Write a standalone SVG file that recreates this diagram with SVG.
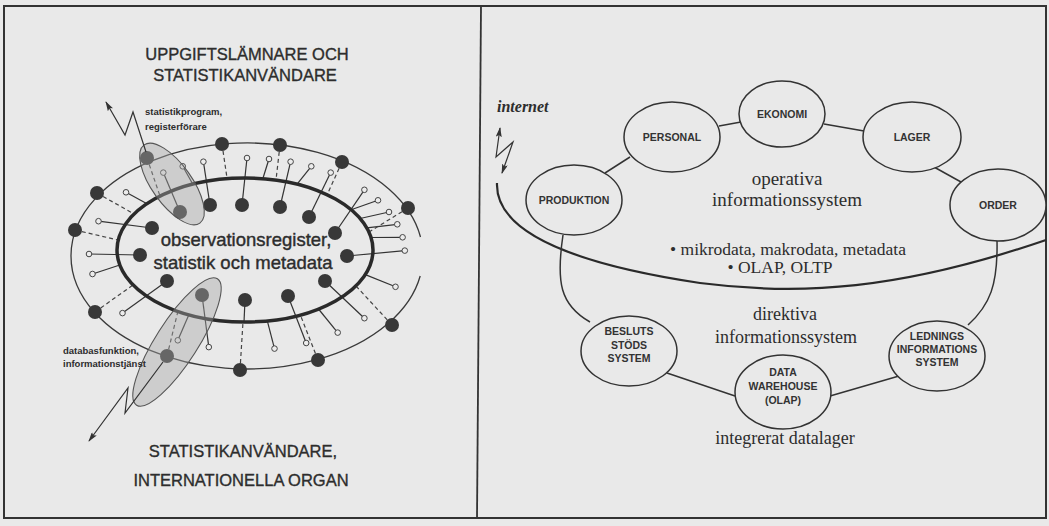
<svg xmlns="http://www.w3.org/2000/svg" width="1049" height="526" viewBox="0 0 1049 526">
<style>
.ln{stroke:#333;stroke-width:1.2;fill:none}
.dash{stroke:#444;stroke-width:1.2;fill:none;stroke-dasharray:4 3}
.thin{stroke:#3a3a3a;stroke-width:1.3;fill:none}
.thick{stroke:#2a2a2a;stroke-width:3.5;fill:none}
.dot{fill:#383838}
.sc{fill:#ececec;stroke:#444;stroke-width:1}
.hl{fill:#a8a8a8;fill-opacity:0.42;stroke:#555;stroke-width:1.1}
.nd{fill:#e9e9e9;stroke:#333;stroke-width:1.5}
.cn{stroke:#333;stroke-width:1.5;fill:none}
.sans{font-family:"Liberation Sans",Arial,sans-serif;fill:#2d2d2d}
.ttl{font-size:16.5px;text-anchor:middle;stroke:#2d2d2d;stroke-width:0.35}
.ctr{font-size:18.5px;text-anchor:middle;stroke:#2d2d2d;stroke-width:0.4}
.sm{font-size:9.5px;font-weight:bold}
.lbl{font-family:"Liberation Sans",Arial,sans-serif;font-size:10.5px;font-weight:bold;fill:#333;text-anchor:middle}
.ser{font-family:"Liberation Serif","Times New Roman",serif;fill:#2d2d2d;text-anchor:middle}
</style>
<defs>
<marker id="ah" viewBox="0 0 10 6" refX="9" refY="3" markerWidth="10" markerHeight="6" markerUnits="userSpaceOnUse" orient="auto-start-reverse">
<path d="M0,0 L10,3 L0,6 L2,3 Z" fill="#333"/>
</marker>
</defs>
<rect x="0" y="0" width="1049" height="526" fill="#e9e9e9"/>
<g id="frame">
<rect x="4" y="6" width="1042" height="512" fill="none" stroke="#333" stroke-width="2"/>
<line x1="481" y1="6" x2="477" y2="518" stroke="#333" stroke-width="1.8"/>
</g>

<!-- LEFT PANEL -->
<g id="left-titles" class="sans">
<text class="ttl" x="247" y="60">UPPGIFTSLÄMNARE OCH</text>
<text class="ttl" x="245" y="81">STATISTIKANVÄNDARE</text>
<text class="ttl" x="243" y="457">STATISTIKANVÄNDARE,</text>
<text class="ttl" x="241" y="486">INTERNATIONELLA ORGAN</text>
</g>

<g id="outer-ring">
<path class="thin" d="M420.2,276 A176 113 0 1 1 420.5,237"/>
</g>

<g id="spokes">
<g class="ln">
<line x1="152" y1="228" x2="98.5" y2="221.2"/>
<line x1="147" y1="203.7" x2="126" y2="192.3"/>
<line x1="180" y1="212" x2="163.3" y2="172.6"/>
<line x1="192.9" y1="184.2" x2="182.7" y2="166.3"/>
<line x1="210" y1="205" x2="203.4" y2="161.7"/>
<line x1="242" y1="205" x2="247" y2="158"/>
<line x1="262.8" y1="178.7" x2="269" y2="159"/>
<line x1="280" y1="207" x2="290.6" y2="161.7"/>
<line x1="297.1" y1="184.2" x2="311.3" y2="166.3"/>
<line x1="309" y1="217" x2="330.7" y2="172.6"/>
<line x1="335" y1="233" x2="364.4" y2="189.8"/>
<line x1="351.1" y1="209.8" x2="378" y2="200.3"/>
<line x1="360.1" y1="218.5" x2="389" y2="212"/>
<line x1="366.7" y1="227.8" x2="397.3" y2="224.3"/>
<line x1="371.1" y1="237.5" x2="402.6" y2="237.3"/>
<line x1="347" y1="256" x2="404.8" y2="250.6"/>
<line x1="365.3" y1="274.6" x2="395.5" y2="286.8"/>
<line x1="325" y1="281" x2="364.4" y2="318.2"/>
<line x1="318.5" y1="309" x2="337.7" y2="332.6"/>
<line x1="288" y1="296" x2="306.2" y2="343"/>
<line x1="267.3" y1="320.9" x2="274.5" y2="348.6"/>
<line x1="202" y1="295" x2="208.8" y2="347.1"/>
<line x1="188.9" y1="314.7" x2="177.8" y2="340.3"/>
<line x1="167" y1="281" x2="122.5" y2="313.1"/>
<line x1="119.8" y1="265" x2="92.5" y2="274"/>
<line x1="140" y1="255" x2="89" y2="254"/>
<line x1="245" y1="300" x2="244" y2="322"/>
</g>
<g class="dash">
<line x1="147" y1="158" x2="160" y2="196"/>
<line x1="222" y1="144" x2="227" y2="178"/>
<line x1="280" y1="145" x2="276" y2="180"/>
<line x1="342" y1="162" x2="327" y2="195"/>
<line x1="408" y1="208" x2="369" y2="232"/>
<line x1="392" y1="325" x2="356" y2="286"/>
<line x1="318" y1="360" x2="300" y2="314"/>
<line x1="240" y1="370" x2="243" y2="322"/>
<line x1="167" y1="356" x2="178" y2="311"/>
<line x1="95" y1="312" x2="133" y2="285"/>
<line x1="75" y1="230" x2="118" y2="240"/>
<line x1="97" y1="193" x2="134" y2="214"/>
</g>
<g class="sc">
<circle cx="98.5" cy="221.2" r="2.8"/>
<circle cx="126" cy="192.3" r="2.8"/>
<circle cx="163.3" cy="172.6" r="2.8"/>
<circle cx="182.7" cy="166.3" r="2.8"/>
<circle cx="203.4" cy="161.7" r="2.8"/>
<circle cx="247" cy="158" r="2.8"/>
<circle cx="269" cy="159" r="2.8"/>
<circle cx="290.6" cy="161.7" r="2.8"/>
<circle cx="311.3" cy="166.3" r="2.8"/>
<circle cx="330.7" cy="172.6" r="2.8"/>
<circle cx="364.4" cy="189.8" r="2.8"/>
<circle cx="378" cy="200.3" r="2.8"/>
<circle cx="389" cy="212" r="2.8"/>
<circle cx="397.3" cy="224.3" r="2.8"/>
<circle cx="402.6" cy="237.3" r="2.8"/>
<circle cx="404.8" cy="250.6" r="2.8"/>
<circle cx="395.5" cy="286.8" r="2.8"/>
<circle cx="364.4" cy="318.2" r="2.8"/>
<circle cx="337.7" cy="332.6" r="2.8"/>
<circle cx="306.2" cy="343" r="2.8"/>
<circle cx="274.5" cy="348.6" r="2.8"/>
<circle cx="208.8" cy="347.1" r="2.8"/>
<circle cx="177.8" cy="340.3" r="2.8"/>
<circle cx="122.5" cy="313.1" r="2.8"/>
<circle cx="92.5" cy="274" r="2.8"/>
<circle cx="89" cy="254" r="2.8"/>
</g>
</g>

<g id="core">
<ellipse class="thick" cx="245" cy="250" rx="128" ry="72"/>
</g>

<g id="inner-dots" class="dot">
<circle cx="152" cy="228" r="7"/>
<circle cx="140" cy="255" r="7"/>
<circle cx="167" cy="281" r="7"/>
<circle cx="202" cy="295" r="7"/>
<circle cx="245" cy="300" r="7"/>
<circle cx="288" cy="296" r="7"/>
<circle cx="325" cy="281" r="7"/>
<circle cx="347" cy="256" r="7"/>
<circle cx="335" cy="233" r="7"/>
<circle cx="309" cy="217" r="7"/>
<circle cx="280" cy="207" r="7"/>
<circle cx="242" cy="205" r="7"/>
<circle cx="210" cy="205" r="7"/>
<circle cx="180" cy="212" r="7"/>
</g>

<g id="outer-dots" class="dot">
<circle cx="75" cy="230" r="7"/>
<circle cx="97" cy="193" r="7"/>
<circle cx="147" cy="158" r="7"/>
<circle cx="222" cy="144" r="7"/>
<circle cx="280" cy="145" r="7"/>
<circle cx="342" cy="162" r="7"/>
<circle cx="408" cy="208" r="7"/>
<circle cx="392" cy="325" r="7"/>
<circle cx="318" cy="360" r="7"/>
<circle cx="240" cy="370" r="7"/>
<circle cx="167" cy="356" r="7"/>
<circle cx="95" cy="312" r="7"/>
</g>

<g id="highlight-top">
<ellipse class="hl" cx="0" cy="0" rx="48" ry="20" transform="translate(172 184) rotate(54.5)"/>
</g>
<g id="highlight-bottom">
<ellipse class="hl" cx="0" cy="0" rx="75" ry="21" transform="translate(177 342) rotate(-57.4)"/>
</g>

<g id="lightning-left">
<polyline class="ln" points="146,152 133,112 125,135 106,102" marker-end="url(#ah)"/>
<polyline class="ln" points="163,362 125,413 128,388 89,441" marker-end="url(#ah)"/>
</g>

<g id="core-text" class="sans">
<text class="ctr" x="246" y="246">observationsregister,</text>
<text class="ctr" x="243" y="269">statistik och metadata</text>
</g>
<g id="left-labels" class="sans sm">
<text x="145" y="115">statistikprogram,</text>
<text x="145" y="130">registerförare</text>
<text x="63" y="354">databasfunktion,</text>
<text x="63" y="367">informationstjänst</text>
</g>

<!-- RIGHT PANEL -->
<g id="connectors">
<path d="M497,183 C495,235 580,265 700,283 C800,296 900,290 1046,240" stroke="#2a2a2a" stroke-width="2.2" fill="none"/>
<line class="cn" x1="605" y1="173" x2="630" y2="157"/>
<line class="cn" x1="719" y1="126" x2="741" y2="122"/>
<line class="cn" x1="824" y1="124" x2="864" y2="131"/>
<line class="cn" x1="934" y1="167" x2="961" y2="182"/>
<path class="cn" d="M563,235 C556,282 560,305 590,322"/>
<path class="cn" d="M997,240 C998,285 990,305 968,325"/>
<line class="cn" x1="667" y1="373" x2="735" y2="396"/>
<line class="cn" x1="830" y1="396" x2="899" y2="376"/>
<polyline class="ln" points="500,128 496,157 513,142 502,173" marker-start="url(#ah)" marker-end="url(#ah)"/>
</g>

<g id="node-produktion"><ellipse class="nd" cx="574" cy="200" rx="48" ry="35"/><text class="lbl" x="574" y="204">PRODUKTION</text></g>
<g id="node-personal"><ellipse class="nd" cx="672" cy="137" rx="48" ry="35"/><text class="lbl" x="672" y="141">PERSONAL</text></g>
<g id="node-ekonomi"><ellipse class="nd" cx="782" cy="114" rx="43" ry="33"/><text class="lbl" x="782" y="118">EKONOMI</text></g>
<g id="node-lager"><ellipse class="nd" cx="912" cy="137" rx="49" ry="35"/><text class="lbl" x="912" y="141">LAGER</text></g>
<g id="node-order"><ellipse class="nd" cx="998" cy="205" rx="48" ry="36"/><text class="lbl" x="998" y="209">ORDER</text></g>
<g id="node-besluts"><ellipse class="nd" cx="629" cy="351" rx="48" ry="35"/>
<text class="lbl" x="629" y="335">BESLUTS</text><text class="lbl" x="629" y="349">STÖDS</text><text class="lbl" x="629" y="362">SYSTEM</text></g>
<g id="node-datawarehouse"><ellipse class="nd" cx="783" cy="392" rx="48" ry="37"/>
<text class="lbl" x="783" y="376">DATA</text><text class="lbl" x="783" y="390">WAREHOUSE</text><text class="lbl" x="783" y="404">(OLAP)</text></g>
<g id="node-lednings"><ellipse class="nd" cx="937" cy="356" rx="48" ry="35"/>
<text class="lbl" x="937" y="340">LEDNINGS</text><text class="lbl" x="937" y="353">INFORMATIONS</text><text class="lbl" x="937" y="366">SYSTEM</text></g>

<g id="right-texts">
<text x="497" y="112" style="font-family:'Liberation Serif','Times New Roman',serif;font-size:16px;font-style:italic;font-weight:bold;fill:#2d2d2d">internet</text>
<text class="ser" x="787" y="185" font-size="19">operativa</text>
<text class="ser" x="787" y="206" font-size="19">informationssystem</text>
<text class="ser" x="788" y="255" font-size="17.5">• mikrodata, makrodata, metadata</text>
<text class="ser" x="780" y="273" font-size="17.5">• OLAP, OLTP</text>
<text class="ser" x="785" y="320" font-size="18">direktiva</text>
<text class="ser" x="786" y="343" font-size="18">informationssystem</text>
<text class="ser" x="785" y="444" font-size="18">integrerat datalager</text>
</g>
</svg>
